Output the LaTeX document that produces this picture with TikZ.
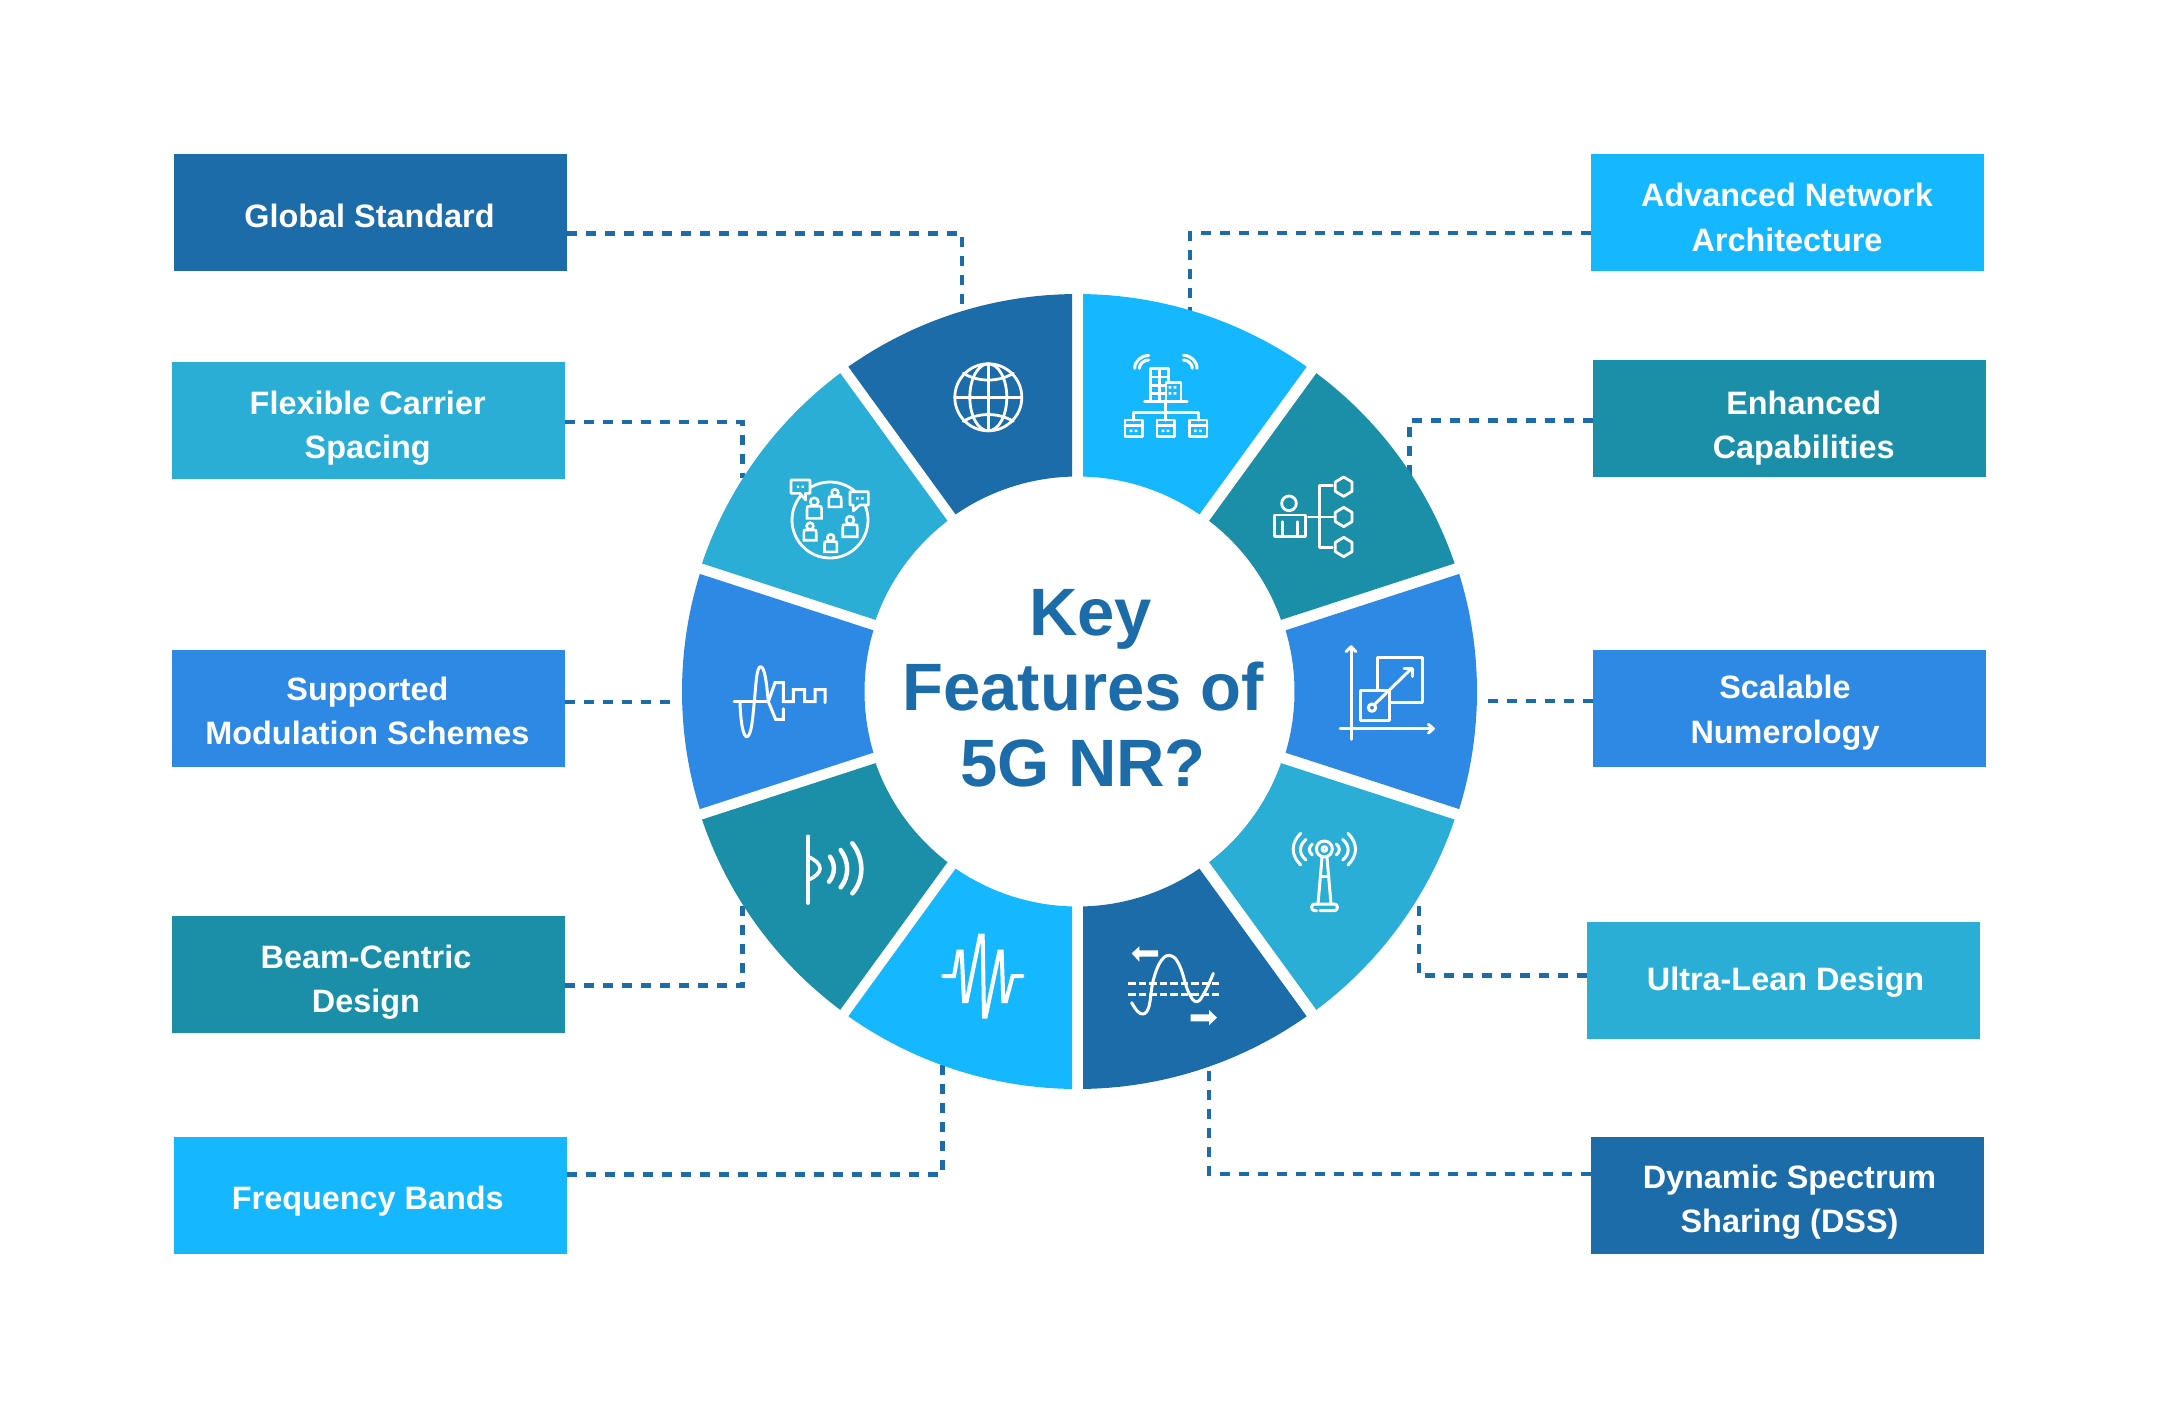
\documentclass[tikz,border=0pt]{standalone}
\usepackage{fontspec}
\setmainfont{Liberation Sans}
\usetikzlibrary{shapes.geometric}
\definecolor{cDark}{HTML}{1B6CA8}
\definecolor{cCyan}{HTML}{15B8FF}
\definecolor{cTeal}{HTML}{1C8FA8}
\definecolor{cBlue}{HTML}{2D89E3}
\definecolor{cLight}{HTML}{2AAED5}
\tikzset{
  boxnode/.style={rectangle,minimum width=393pt,minimum height=117pt,inner sep=0pt,outer sep=0pt},
  labeltext/.style={anchor=base,inner sep=0pt,text=white,font=\fontsize{32.4}{44.3}\selectfont\bfseries},
  titletext/.style={anchor=base,inner sep=0pt,text=cDark,font=\fontsize{67}{75.8}\selectfont\bfseries},
  conn/.style={draw=cDark,line width=4.5pt,dash pattern=on 10pt off 9pt},
  icon/.style={draw=white,line width=3pt,line cap=round,line join=round},
  thick icon/.style={draw=white,line width=4.5pt,line cap=round,line join=round},
  trace/.style={x=0.33333pt,y=-0.33333pt},
}
\newcommand{\twolines}[2]{\vbox{\baselineskip=44.3pt\lineskiplimit=-100pt\halign{\hfil##\hfil\cr #1\cr #2\cr}}}
\newcommand{\ringseg}[4]{%
  \pgfmathsetmacro{\aStartO}{#2+asin(5.5/397.5)}%
  \pgfmathsetmacro{\aEndO}{#3-asin(5.5/397.5)}%
  \pgfmathsetmacro{\aStartI}{#2+asin(5.5/215)}%
  \pgfmathsetmacro{\aEndI}{#3-asin(5.5/215)}%
  \fill[#4] plot[domain=\aStartO:\aEndO,samples=40] ({#1+397.5*cos(\x)},{691.5-397.5*sin(\x)})
     -- plot[domain=\aEndI:\aStartI,samples=30] ({#1+215*cos(\x)},{691.5-215*sin(\x)}) -- cycle;
}
\newcommand{\persona}[3]{%
  \draw[icon,line width=2.6pt] (#1,#2-6.6*#3) circle ({4*#3});
  \draw[icon,line width=2.6pt,line join=miter] (#1-7.3*#3,#2+10*#3) -- (#1-7.3*#3,#2+1*#3) .. controls (#1-7.3*#3,#2-2*#3) .. (#1-3.5*#3,#2-2*#3) -- (#1+3.5*#3,#2-2*#3) .. controls (#1+7.3*#3,#2-2*#3) .. (#1+7.3*#3,#2+1*#3) -- (#1+7.3*#3,#2+10*#3) -- cycle;
}
\begin{document}
\begin{tikzpicture}[x=1pt,y=-1pt]
\useasboundingbox (0,0) rectangle (2160,1406);
\fill[white] (0,0) rectangle (2160,1406);

% boxes
\node[boxnode,fill=cDark]  (bGlobal)   at (370.5,212.5) {};
\node[boxnode,fill=cLight] (bFlexible) at (368.5,420.5) {};
\node[boxnode,fill=cBlue]  (bSupported) at (368.5,708) {};
\node[boxnode,fill=cTeal]  (bBeam)     at (368.5,974.5) {};
\node[boxnode,fill=cCyan]  (bFreq)     at (370.5,1195.5) {};
\node[boxnode,fill=cCyan]  (bAdvanced) at (1787.5,212.5) {};
\node[boxnode,fill=cTeal]  (bEnhanced) at (1789.5,418.5) {};
\node[boxnode,fill=cBlue]  (bScalable) at (1789.5,708) {};
\node[boxnode,fill=cLight] (bUltra)    at (1783.5,980) {};
\node[boxnode,fill=cDark]  (bDynamic)  at (1787.5,1195.5) {};

% connector free ends
\coordinate (eGlobal) at (962,318);
\coordinate (eFlexible) at (742.3,478);
\coordinate (eSupported) at (674,701.8);
\coordinate (eBeam) at (742.3,897);
\coordinate (eFreq) at (942.7,1058);
\coordinate (eAdvanced) at (1190,318);
\coordinate (eEnhanced) at (1409.7,476);
\coordinate (eScalable) at (1487,701);
\coordinate (eUltra) at (1419,904);
\coordinate (eDynamic) at (1209,1070);

\draw[conn] (bGlobal.east |- 0,233.3) -| (eGlobal);
\draw[conn] (bFlexible.east |- 0,422) -| (eFlexible);
\draw[conn] (bSupported.east |- 0,701.8) -- (eSupported);
\draw[conn] (bBeam.east |- 0,985.5) -| (eBeam);
\draw[conn] (bFreq.east |- 0,1174.4) -| (eFreq);
\draw[conn] (bAdvanced.west |- 0,233) -| (eAdvanced);
\draw[conn] (bEnhanced.west |- 0,420.5) -| (eEnhanced);
\draw[conn] (bScalable.west |- 0,701) -- (eScalable);
\draw[conn] (bUltra.west |- 0,975.7) -| (eUltra);
\draw[conn] (bDynamic.west |- 0,1174) -| (eDynamic);

% ring
\ringseg{1077.5}{54}{90}{cCyan}
\ringseg{1078.3}{18}{54}{cTeal}
\ringseg{1079.5}{-18}{18}{cBlue}
\ringseg{1078.3}{-54}{-18}{cLight}
\ringseg{1077.5}{-90}{-54}{cDark}
\ringseg{1077.5}{-126}{-90}{cCyan}
\ringseg{1078.3}{-162}{-126}{cTeal}
\ringseg{1079.5}{162}{198}{cBlue}
\ringseg{1078.3}{126}{162}{cLight}
\ringseg{1077.5}{90}{126}{cDark}

% labels
\node[labeltext] (tGlobal) at (369.5,227.3) {Global Standard};
\node[labeltext] (tFlexible) at (367.7,458.3) {\twolines{Flexible Carrier}{Spacing}};
\node[labeltext] (tSupported) at (367.4,744.5) {\twolines{Supported}{Modulation Schemes}};
\node[labeltext] (tBeam) at (366,1012.6) {\twolines{Beam-Centric}{Design}};
\node[labeltext] (tFreq) at (367.8,1209) {Frequency Bands};
\node[labeltext] (tAdvanced) at (1787,251) {\twolines{Advanced Network}{Architecture}};
\node[labeltext] (tEnhanced) at (1803.7,458.6) {\twolines{Enhanced}{Capabilities}};
\node[labeltext] (tScalable) at (1785,743) {\twolines{Scalable}{Numerology}};
\node[labeltext] (tUltra) at (1785.5,990) {Ultra-Lean Design};
\node[labeltext] (tDynamic) at (1789.5,1232.7) {\twolines{Dynamic Spectrum}{Sharing (DSS)}};

% title
\node[titletext] (title) at (1083,786.7) {\vbox{\baselineskip=75.8pt\lineskiplimit=-100pt\halign{\hfil#\hfil\cr \kern15pt Key\cr Features of\cr 5G NR?\cr}}};

% icon: globe
\begin{scope}[shift={(988.3,397.3)}]
  \draw[icon,line width=2.8pt] (0,0) circle (33.5);
  \draw[icon,line width=2.8pt] (0,0) ellipse (18.5 and 33.5);
  \draw[icon,line width=2.8pt] (0,-33.5) -- (0,33.5) (-33.5,0) -- (33.5,0);
  \draw[icon,line width=2.8pt] (-25,-24) .. controls (-10,-15) and (10,-15) .. (25,-24);
  \draw[icon,line width=2.8pt] (-25,24) .. controls (-10,15) and (10,15) .. (25,24);
\end{scope}

% icon: people in a circle
\begin{scope}[shift={(830,520)}]
  \draw[icon,line width=2.8pt] (0,0) circle (38);
  \persona{-15.7}{-11.7}{1}
  \persona{5}{-21.7}{0.85}
  \persona{20}{6.7}{1}
  \persona{-20}{11.7}{0.85}
  \persona{0.7}{23.3}{0.85}
  \draw[icon,line width=2.6pt,fill=cLight] (-39,-40) -- (-20,-40) -- (-20,-26.7) -- (-24.5,-26.7) -- (-24.3,-20) -- (-30,-26.7) -- (-39,-26.7) -- cycle;
  \draw[icon,line width=2.6pt,fill=cLight] (20,-28.3) -- (38.3,-28.3) -- (38.3,-15) -- (30,-15) -- (23.3,-9) -- (23.3,-15) -- (20,-15) -- cycle;
  \fill[white] (-33.2,-34.5) rectangle +(2.4,2.4) (-28.5,-34.5) rectangle +(2.4,2.4);
  \fill[white] (26.1,-22.9) rectangle +(2.4,2.4) (31.1,-22.9) rectangle +(2.4,2.4);
\end{scope}

% icon: network architecture
\begin{scope}[shift={(1060,280)},trace]
  \draw[icon] (224,265) .. controls (224,243) and (245,226) .. (266,226);
  \draw[icon] (238,265) .. controls (238,252) and (252,240) .. (266,240);
  \draw[icon] (411,265) .. controls (411,243) and (392,226) .. (370,226);
  \draw[icon] (397,265) .. controls (397,252) and (384,240) .. (370,240);
  \draw[icon,line width=2.8pt] (272,362) -- (272,266) -- (325,266) -- (325,307);
  \draw[icon,line width=2.6pt] (272,291) -- (320,291) (272,316) -- (316,316) (272,341) -- (316,341) (298,266) -- (298,362);
  \draw[icon,line width=2.8pt,fill=cCyan] (318,362) -- (318,307) -- (363,307) -- (363,362);
  \fill[white] (326,318) rectangle +(8,8) (341,318) rectangle +(8,8) (326,336) rectangle +(8,8) (341,336) rectangle +(8,8);
  \draw[icon] (254,363) -- (381,363);
  \draw[icon] (317,363) -- (317,420);
  \draw[icon] (220,420) -- (220,397) -- (415,397) -- (415,420);
  \foreach \bx in {195,291,388}{
    \draw[icon,line width=2.8pt] (\bx,420) rectangle +(53,50);
    \draw[icon,line width=2.8pt] (\bx,437) -- +(53,0);
    \fill[white] (\bx+14,449) rectangle +(8,7) (\bx+29,449) rectangle +(8,7);
  }
\end{scope}

% icon: person and hexagons
\begin{scope}[shift={(1060,280)},trace]
  \draw[icon,line width=2.8pt] (687,670) circle (22);
  \draw[icon,line width=2.8pt] (643,705) rectangle (737,769);
  \draw[icon,line width=2.8pt] (667,725) -- (667,769) (712,725) -- (712,769);
  \draw[icon,line width=2.8pt] (745,711) -- (820,711);
  \draw[icon,line width=2.8pt] (817,617) -- (778,617) -- (778,803) -- (817,803);
  \foreach \hy in {620,711,801}{
    \draw[icon,line width=2.8pt] (851,\hy-29) -- (876,\hy-14) -- (876,\hy+14) -- (851,\hy+29) -- (826,\hy+14) -- (826,\hy-14) -- cycle;
  }
\end{scope}

% icon: scaling
\begin{scope}[shift={(1330,630)},trace]
  \draw[icon] (63,328) -- (63,50);
  \draw[icon] (48,65) -- (63,50) -- (78,65);
  \draw[icon] (30,296) -- (310,296);
  \draw[icon] (295,283) -- (310,296) -- (295,309);
  \draw[icon] (141,180) -- (141,83) -- (277,83) -- (277,217) -- (180,217);
  \draw[icon] (90,182) rectangle (178,270);
  \draw[icon] (126,233) circle (11);
  \draw[icon] (135,222) -- (245,115);
  \draw[icon] (222,115) -- (247,115) -- (247,140);
\end{scope}

% icon: tower
\begin{scope}[shift={(1060,680)},trace]
  \draw[icon] (793,507) circle (24);
  \draw[icon] (793,507) circle (7);
  \draw[icon] (722,460) .. controls (692,490) and (692,525) .. (722,555);
  \draw[icon] (738,478) .. controls (716,497) and (716,522) .. (738,540);
  \draw[icon] (757,492) .. controls (745,502) and (745,515) .. (757,525);
  \draw[icon] (864,460) .. controls (894,490) and (894,525) .. (864,555);
  \draw[icon] (848,478) .. controls (870,497) and (870,522) .. (848,540);
  \draw[icon] (829,492) .. controls (841,502) and (841,515) .. (829,525);
  \draw[icon] (786,533) -- (774,672);
  \draw[icon] (801,533) -- (813,672);
  \draw[icon] (783,590) -- (804,590);
  \draw[icon,rounded corners=3pt] (770,692) -- (755,692) -- (755,672) -- (832,672) -- (832,692) -- (780,692);
\end{scope}

% icon: spectrum sharing
\begin{scope}[shift={(1060,680)},trace]
  \fill[white] (215,820) -- (238,799) -- (238,811) -- (294,811) -- (294,830) -- (238,830) -- (238,845) -- cycle;
  \fill[white] (471,1013) -- (447,990) -- (447,1003) -- (392,1003) -- (392,1024) -- (447,1024) -- (447,1036) -- cycle;
  \draw[draw=white,line width=3pt,dash pattern=on 7.5pt off 3pt] (205,910) -- (478,910) (205,942) -- (478,942);
  \draw[icon] plot[smooth,tension=0.7] coordinates {(215,968) (240,1000) (265,985) (280,900) (305,840) (335,828) (360,860) (385,935) (410,965) (435,935) (460,880)};
\end{scope}

% icon: waveform
\begin{scope}[shift={(680,680)},trace]
  \draw[icon,line width=4pt,line join=miter,miter limit=2] (790,888) -- (822,888) -- (835,815) -- (845,815) -- (852,963) -- (860,963) -- (900,767) -- (908,767) -- (912,1010) -- (917,1010) -- (958,815) -- (965,815) -- (970,963) -- (978,963) -- (998,888) -- (1027,888);
\end{scope}

% icon: beam
\begin{scope}[shift={(680,680)},trace]
  \draw[thick icon] (384,470) -- (384,668);
  \draw[icon,line width=3.6pt] (384,530) .. controls (432,550) and (432,580) .. (384,600);
  \draw[thick icon] (450,530) .. controls (466,552) and (466,582) .. (447,605);
  \draw[thick icon] (482,510) .. controls (508,545) and (508,590) .. (482,622);
  \draw[thick icon] (517,490) .. controls (553,535) and (553,600) .. (517,640);
\end{scope}

% icon: modulation
\begin{scope}[shift={(720,630)},trace]
  \draw[icon] (42,215) -- (145,215);
  \draw[icon] (60,215) .. controls (62,290) and (72,320) .. (80,320) .. controls (95,320) and (98,260) .. (103,215) .. controls (108,160) and (110,110) .. (122,110) .. controls (135,110) and (140,165) .. (145,215);
  \draw[icon,line join=miter] (145,215) -- (165,158) -- (190,158) -- (190,215) -- (220,215) -- (220,179) -- (254,179) -- (254,215) -- (285,215) -- (285,179) -- (315,179) -- (315,218);
  \draw[icon,line join=miter] (145,215) -- (167,268) -- (190,268) -- (190,236);
\end{scope}
\end{tikzpicture}
\end{document}
